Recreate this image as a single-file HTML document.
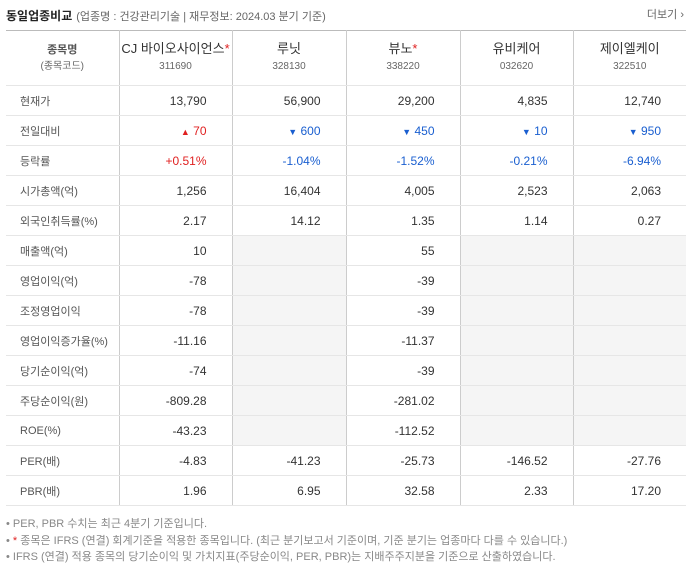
<!DOCTYPE html>
<html><head><meta charset="utf-8">
<style>
body{margin:0;width:692px;height:571px;background:#fff;font-family:"Liberation Sans","Noto Sans CJK KR",sans-serif;position:relative;overflow:hidden}
.title{position:absolute;left:6px;top:7px;font-size:12px;font-weight:bold;color:#222}
.sub{font-weight:normal;color:#666;font-size:11px;margin-left:4px}
.more{position:absolute;right:8px;top:6px;font-size:11px;color:#666}
table{position:absolute;left:6px;top:30px;width:680px;border-collapse:collapse;table-layout:fixed;border-top:1px solid #bbb;border-bottom:1px solid #bbb}
td,th{border-bottom:1px solid #e6e6e6;border-left:1px solid #ccc;height:29px;padding:0;font-size:12px;color:#333}
td:first-child,th:first-child{border-left:none}
th{height:54px;font-weight:normal;color:#333;font-size:13px;line-height:16px}
th .c{font-size:10px;color:#666}
th.h{font-size:11px;font-weight:bold;color:#555}
th.h .c{font-weight:normal}
td.l{padding-left:14px;font-size:11px;color:#555;text-align:left}
td.v{text-align:right;padding-right:25px}
td.g{background:#f5f5f5}
.up{color:#e02020}.dn{color:#1a5fd0}
.star{color:#e02020}
.notes{position:absolute;left:6px;top:516px;font-size:11px;color:#888;line-height:16.5px}
</style></head><body>
<div class="title">동일업종비교<span class="sub">(업종명 : 건강관리기술 | 재무정보: 2024.03 분기 기준)</span></div>
<div class="more">더보기 ›</div>
<table>
<colgroup><col style="width:113px"><col style="width:113px"><col style="width:114px"><col style="width:114px"><col style="width:113px"><col style="width:113px"></colgroup>
<tr><th class="h">종목명<br><span class="c">(종목코드)</span></th>
<th>CJ 바이오사이언스<span class="star">*</span><br><span class="c">311690</span></th>
<th>루닛<br><span class="c">328130</span></th>
<th>뷰노<span class="star">*</span><br><span class="c">338220</span></th>
<th>유비케어<br><span class="c">032620</span></th>
<th>제이엘케이<br><span class="c">322510</span></th></tr>
<tr><td class="l">현재가</td><td class="v">13,790</td><td class="v">56,900</td><td class="v">29,200</td><td class="v">4,835</td><td class="v">12,740</td></tr>
<tr><td class="l">전일대비</td><td class="v up"><span style="font-size:9px">▲</span> 70</td><td class="v dn"><span style="font-size:9px">▼</span> 600</td><td class="v dn"><span style="font-size:9px">▼</span> 450</td><td class="v dn"><span style="font-size:9px">▼</span> 10</td><td class="v dn"><span style="font-size:9px">▼</span> 950</td></tr>
<tr><td class="l">등락률</td><td class="v up">+0.51%</td><td class="v dn">-1.04%</td><td class="v dn">-1.52%</td><td class="v dn">-0.21%</td><td class="v dn">-6.94%</td></tr>
<tr><td class="l">시가총액(억)</td><td class="v">1,256</td><td class="v">16,404</td><td class="v">4,005</td><td class="v">2,523</td><td class="v">2,063</td></tr>
<tr><td class="l">외국인취득률(%)</td><td class="v">2.17</td><td class="v">14.12</td><td class="v">1.35</td><td class="v">1.14</td><td class="v">0.27</td></tr>
<tr><td class="l">매출액(억)</td><td class="v">10</td><td class="g"></td><td class="v">55</td><td class="g"></td><td class="g"></td></tr>
<tr><td class="l">영업이익(억)</td><td class="v">-78</td><td class="g"></td><td class="v">-39</td><td class="g"></td><td class="g"></td></tr>
<tr><td class="l">조정영업이익</td><td class="v">-78</td><td class="g"></td><td class="v">-39</td><td class="g"></td><td class="g"></td></tr>
<tr><td class="l">영업이익증가율(%)</td><td class="v">-11.16</td><td class="g"></td><td class="v">-11.37</td><td class="g"></td><td class="g"></td></tr>
<tr><td class="l">당기순이익(억)</td><td class="v">-74</td><td class="g"></td><td class="v">-39</td><td class="g"></td><td class="g"></td></tr>
<tr><td class="l">주당순이익(원)</td><td class="v">-809.28</td><td class="g"></td><td class="v">-281.02</td><td class="g"></td><td class="g"></td></tr>
<tr><td class="l">ROE(%)</td><td class="v">-43.23</td><td class="g"></td><td class="v">-112.52</td><td class="g"></td><td class="g"></td></tr>
<tr><td class="l">PER(배)</td><td class="v">-4.83</td><td class="v">-41.23</td><td class="v">-25.73</td><td class="v">-146.52</td><td class="v">-27.76</td></tr>
<tr><td class="l">PBR(배)</td><td class="v">1.96</td><td class="v">6.95</td><td class="v">32.58</td><td class="v">2.33</td><td class="v">17.20</td></tr>
</table>
<div class="notes">
<div>• PER, PBR 수치는 최근 4분기 기준입니다.</div>
<div>• <span class="star">*</span> 종목은 IFRS (연결) 회계기준을 적용한 종목입니다. (최근 분기보고서 기준이며, 기준 분기는 업종마다 다를 수 있습니다.)</div>
<div>• IFRS (연결) 적용 종목의 당기순이익 및 가치지표(주당순이익, PER, PBR)는 지배주주지분을 기준으로 산출하였습니다.</div>
</div>
</body></html>
